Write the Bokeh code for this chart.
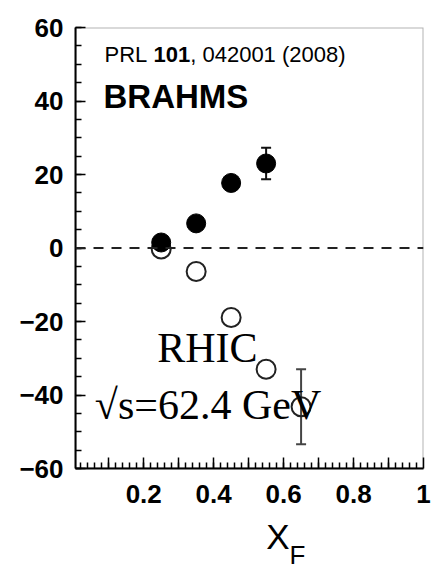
from bokeh.plotting import figure
from bokeh.layouts import column
from bokeh.models import (ColumnDataSource, Range1d, Span, Label, Whisker, TeeHead,
                          FixedTicker, SingleIntervalTicker, BoxAnnotation)
from bokeh.core.properties import value
from bokeh.embed import file_html
from bokeh.resources import INLINE

# Asymmetry A_N (%) vs x_F, two charge states
xf_pos = [0.25, 0.35, 0.45, 0.55]
an_pos = [1.5, 6.7, 17.7, 23.0]
err_pos = [0.0, 0.0, 0.0, 4.3]

xf_neg = [0.25, 0.35, 0.45, 0.55, 0.65]
an_neg = [-0.3, -6.4, -18.9, -33.0, -43.2]
err_neg = [0.0, 0.0, 0.0, 0.0, 10.2]

# axis ticks
x_major = [0.1, 0.2, 0.3, 0.4, 0.5, 0.6, 0.7, 0.8, 0.9, 1.0]
x_labels = {0.1: "", 0.2: "0.2", 0.3: "", 0.4: "0.4", 0.5: "", 0.6: "0.6",
            0.7: "", 0.8: "0.8", 0.9: "", 1.0: "1"}
x_minor = [round(0.02 * i, 2) for i in range(1, 50)]

p = figure(width=434, height=515, output_backend="svg", toolbar_location=None,
           title=None, x_range=Range1d(0.005, 1.0), y_range=Range1d(-60, 60),
           min_border_left=75, min_border_right=11, min_border_top=27,
           min_border_bottom=47)
p.background_fill_color = "white"
p.border_fill_color = "white"
p.grid.visible = False
p.outline_line_color = None

# frame box
p.add_layout(BoxAnnotation(fill_alpha=0, line_color="black", line_width=2))

# x axis
xa = p.xaxis[0]
xa.ticker = FixedTicker(ticks=x_major, minor_ticks=x_minor)
xa.major_label_overrides = x_labels
for ax in (p.xaxis[0], p.yaxis[0]):
    ax.axis_line_width = 2
    ax.axis_line_color = "black"
    ax.major_tick_out = 0
    ax.minor_tick_out = 0
    ax.major_tick_line_width = 1.5
    ax.minor_tick_line_width = 1.5
    ax.major_tick_line_color = "black"
    ax.minor_tick_line_color = "black"
    ax.major_label_text_font = "Liberation Sans"
    ax.major_label_text_font_style = "bold"
    ax.major_label_text_font_size = "26px"
    ax.major_label_text_color = "black"
xa.major_tick_in = 11
xa.minor_tick_in = 6
xa.major_label_standoff = 16

ya = p.yaxis[0]
ya.ticker = SingleIntervalTicker(interval=20, num_minor_ticks=4)
ya.major_tick_in = 10
ya.minor_tick_in = 6
ya.major_label_standoff = 12

# zero line
p.add_layout(Span(location=0, dimension="width", line_color="#222222",
                  line_width=2, line_dash="10 8"))

# error bars (only where visible beyond the marker)
def whisker_source(xs, ys, es):
    keep = [(x, y, e) for x, y, e in zip(xs, ys, es) if e > 0]
    return ColumnDataSource(dict(x=[k[0] for k in keep],
                                 lo=[k[1] - k[2] for k in keep],
                                 hi=[k[1] + k[2] for k in keep]))

for xs, ys, es, col in ((xf_pos, an_pos, err_pos, "#111111"),
                        (xf_neg, an_neg, err_neg, "#444444")):
    w = Whisker(base="x", lower="lo", upper="hi", source=whisker_source(xs, ys, es),
                dimension="height", line_color=col, line_width=2,
                upper_head=TeeHead(size=10, line_color=col, line_width=2),
                lower_head=TeeHead(size=10, line_color=col, line_width=2))
    p.add_layout(w)

# open markers first, filled on top
p.scatter(xf_neg, an_neg, marker="circle", size=19, fill_alpha=0,
          line_color="#222222", line_width=2)
p.scatter(xf_pos, an_pos, marker="circle", size=19, fill_color="black",
          line_color="black")

# annotation texts
def add_text(x, y, text, font="Liberation Sans", size="22px", style="normal",
             align="left"):
    p.add_layout(Label(x=x, y=y, text=text, text_font=font, text_font_size=size,
                       text_font_style=style, text_align=align,
                       text_baseline="alphabetic", text_color="black"))

add_text(0.088, 52.6, "PRL")
add_text(0.228, 52.6, "101", style="bold")
add_text(0.333, 52.6, ", 042001 (2008)")
add_text(0.085, 41.2, "BRAHMS", size="33px", style="bold")
add_text(0.382, -27.1, "RHIC", font="Liberation Serif", size="42px", align="center")
add_text(0.384, -42.6, "\u221as=62.4 GeV", font="Liberation Serif", size="42px",
         align="center")

# axis title X_F in a strip under the plot (pixel coordinates)
t = figure(width=434, height=55, output_backend="svg", toolbar_location=None,
           title=None, x_range=Range1d(0, 434), y_range=Range1d(0, 55),
           x_axis_type=None, y_axis_type=None, min_border=0)
t.grid.visible = False
t.outline_line_color = None
t.background_fill_color = "white"
t.border_fill_color = "white"
t.text(x=[238], y=[34], text=["X"], text_font=value("Liberation Sans"),
       text_font_size="35px", text_baseline="alphabetic", text_color="black")
t.text(x=[267], y=[16], text=["F"], text_font=value("Liberation Sans"),
       text_font_size="26px", text_baseline="alphabetic", text_color="black")

layout = column(p, t, spacing=0)
open("out.html", "w").write(file_html(layout, INLINE))
